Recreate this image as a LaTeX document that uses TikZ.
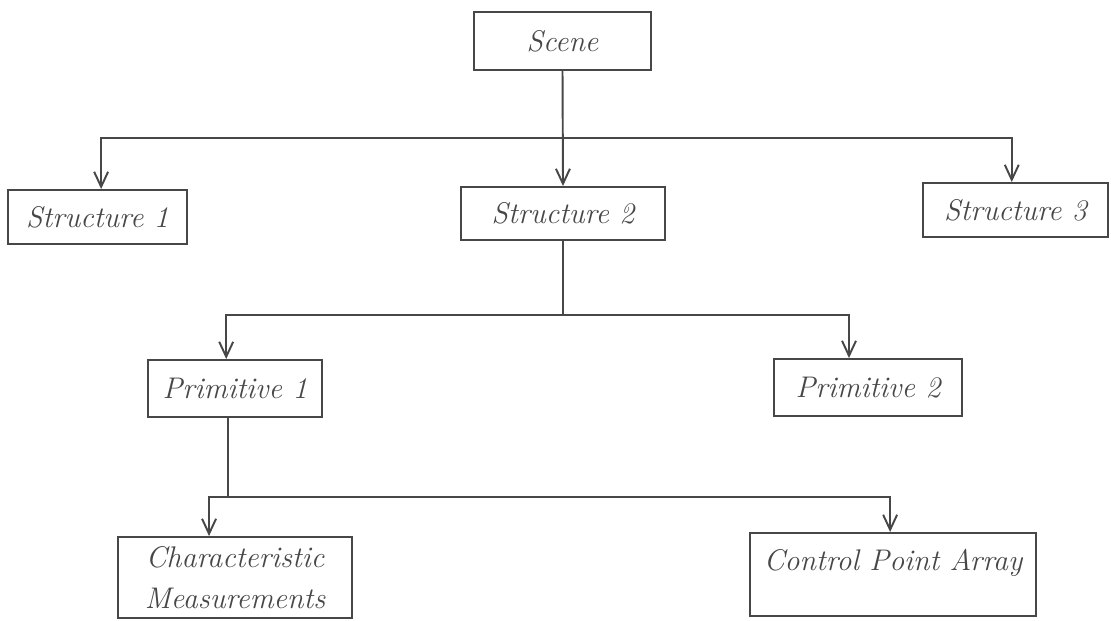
\documentclass[tikz,border=0pt]{standalone}
\usetikzlibrary{calc,arrows.meta}
\definecolor{ink}{HTML}{474747}

\begin{document}
\begin{tikzpicture}[x=0.02cm, y=-0.02cm, ink, line width=1.1pt,
	entity/.style={rectangle, draw, inner sep=0pt, align=center,
	font=\fontsize{17}{23}\selectfont\itshape, text=ink},
	>={Straight Barb[length=3mm,width=2.8mm]}]
\useasboundingbox (0,0) rectangle (1111,620);

\node[entity,minimum width=177*0.02cm,minimum height=58*0.02cm] (scene) at (562.5,41) {Scene};
\node[entity,minimum width=179*0.02cm,minimum height=54*0.02cm] (s1) at (97.5,217) {Structure 1};
\node[entity,minimum width=204*0.02cm,minimum height=53*0.02cm] (s2) at (563,213.5) {Structure 2};
\node[entity,minimum width=185*0.02cm,minimum height=54*0.02cm] (s3) at (1015.5,210) {Structure 3};
\node[entity,minimum width=174*0.02cm,minimum height=57*0.02cm] (p1) at (235,388.5) {Primitive 1};
\node[entity,minimum width=188*0.02cm,minimum height=57*0.02cm] (p2) at (868,387.5) {Primitive 2};
\node[entity,minimum width=234*0.02cm,minimum height=81*0.02cm] (cm) at (235,577.5) {Characteristic\\Measurements};
\node[entity,minimum width=286*0.02cm,text height=0.76cm,text depth=0.9cm,anchor=north] (cpa) at (893,532) {Control Point Array};

% scene -> structures
\coordinate (j1) at ($(scene.south)!0.58!(s2.north)$);
\draw[->] (scene.south) -- (s2.north);
\draw[->] (j1) -| ($(s1.north west)!0.52!(s1.north east)$);
\draw[->] (j1) -| ($(s3.north west)!0.48!(s3.north east)$);

% structure 2 -> primitives
\coordinate (j2) at ($(s2.south)!0.625!(p1.north -| s2.south)$);
\draw (s2.south) -- (j2);
\draw[->] (j2) -| ($(p1.north west)!0.45!(p1.north east)$);
\draw[->] (j2) -| ($(p2.north west)!0.40!(p2.north east)$);

% primitive 1 -> data
\coordinate (p1out) at ($(p1.south west)!0.46!(p1.south east)$);
\coordinate (j3) at ($(p1out)!0.69!(p1out |- cpa.north)$);
\draw (p1out) -- (j3);
\draw[->] let \p1 = (j3), \p2 = ($(cm.north west)!0.39!(cm.north east)$) in (\x1,\y1) -| (\p2);
\draw[->] (j3) -| ($(cpa.north west)!0.49!(cpa.north east)$);
\end{tikzpicture}
\end{document}
